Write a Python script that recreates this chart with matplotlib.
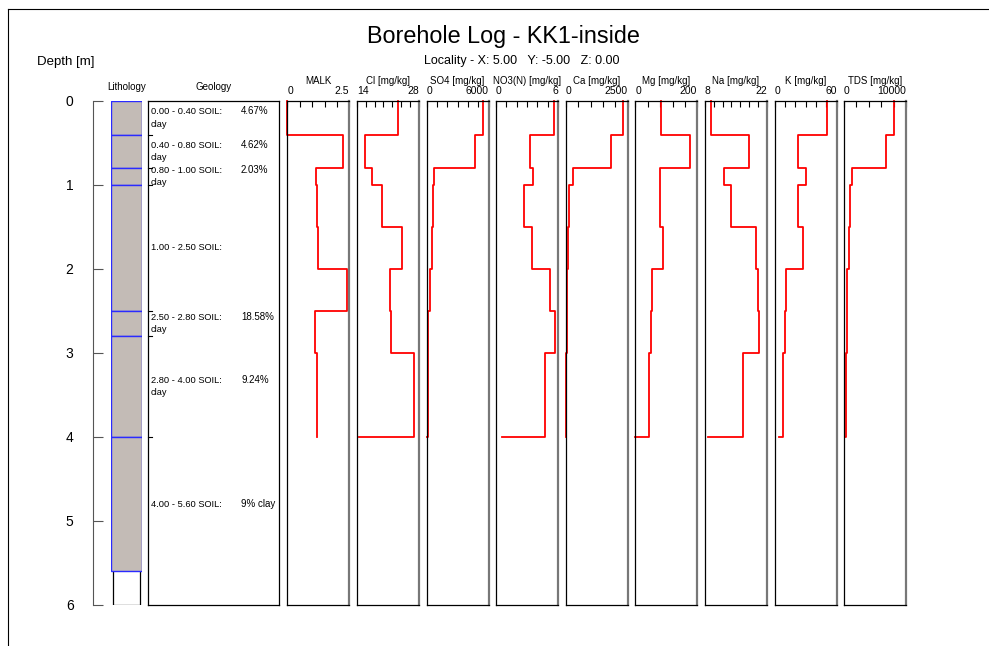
import numpy as np
import matplotlib.pyplot as plt
from matplotlib.patches import Rectangle
from matplotlib.lines import Line2D

plt.rcParams['font.family'] = ['Liberation Sans', 'DejaVu Sans']

W, H = 989, 646

# sample depths (top of each step, last one is the end point)
depths = [0.0, 0.4, 0.8, 1.0, 1.5, 2.0, 2.5, 3.0, 4.0]

malk = [0.0, 2.23, 1.17, 1.19, 1.22, 2.41, 1.10, 1.18, 1.18]
cl = [23.3, 15.8, 17.5, 19.7, 24.1, 21.5, 21.6, 26.9, 14.4]
so4 = [5480, 4675, 707, 640, 545, 320, 190, 170, 0]
no3 = [5.57, 3.24, 3.53, 2.69, 3.47, 5.25, 5.73, 4.76, 0.55]
ca = [2325, 1808, 286, 122, 94, 53, 40, 30, 25]
mg = [84, 176, 81, 81, 88, 55, 51, 43, 0]
na = [9.43, 18.07, 12.39, 13.9, 19.6, 19.9, 20.2, 16.64, 8.8]
k = [51.0, 22.9, 30.0, 22.3, 27.8, 11.6, 10.3, 8.7, 4.2]
tds = [8040, 6800, 1300, 930, 815, 490, 435, 330, 100]

col_names = ["MALK", "Cl [mg/kg]", "SO4 [mg/kg]", "NO3(N) [mg/kg]", "Ca [mg/kg]",
             "Mg [mg/kg]", "Na [mg/kg]", "K [mg/kg]", "TDS [mg/kg]"]
col_data = [malk, cl, so4, no3, ca, mg, na, k, tds]
col_min = [0, 14, 0, 0, 0, 0, 8, 0, 0]
col_max = [2.5, 28, 6000, 6, 2500, 200, 22, 60, 10000]
col_step = [0.5, 2, 1000, 1, 500, 40, 2, 10, 2000]
col_min_lbl = ["0", "14", "0", "0", "0", "0", "8", "0", "0"]
col_max_lbl = ["2.5", "28", "6000", "6", "2500", "200", "22", "60", "10000"]

# geology / lithology layers
geo_top = [0.0, 0.4, 0.8, 1.0, 2.5, 2.8, 4.0]
geo_bot = [0.4, 0.8, 1.0, 2.5, 2.8, 4.0, 5.6]
geo_desc = ["0.00 - 0.40 SOIL:", "0.40 - 0.80 SOIL:", "0.80 - 1.00 SOIL:",
            "1.00 - 2.50 SOIL:", "2.50 - 2.80 SOIL:", "2.80 - 4.00 SOIL:",
            "4.00 - 5.60 SOIL:"]
geo_pct = ["4.67%", "4.62%", "2.03%", "", "18.58%", "9.24%", "9% clay"]
geo_line2 = ["clay", "clay", "clay", "", "clay", "clay", ""]

Y0, Y1 = 101, 605  # pixel rows for depth 0 and 6


def rect(x0, x1):
    return [x0 / W, 1 - Y1 / H, (x1 - x0) / W, (Y1 - Y0) / H]


fig = plt.figure(figsize=(W / 100, H / 100), dpi=100)

# page frame (runs off the image on the right and bottom)
fig.add_artist(Line2D([8 / W, 8 / W], [0, 1 - 9 / H], color='black', lw=0.8))
fig.add_artist(Line2D([8 / W, 1], [1 - 9 / H, 1 - 9 / H], color='black', lw=0.8))

fig.text(503 / W, 1 - 37 / H, "Borehole Log - KK1-inside", ha='center', va='center', fontsize=16.8)
fig.text(522 / W, 1 - 61 / H, "Locality - X: 5.00   Y: -5.00   Z: 0.00", ha='center', va='center', fontsize=9)
fig.text(37 / W, 1 - 62 / H, "Depth [m]", ha='left', va='center', fontsize=9.5)

# depth axis
axd = fig.add_axes(rect(93, 103))
axd.set_ylim(6, 0)
axd.set_xlim(0, 1)
for s in ['top', 'right', 'bottom']:
    axd.spines[s].set_visible(False)
axd.spines['left'].set_color('#555555')
axd.set_xticks([])
axd.set_yticks(range(7))
axd.tick_params(axis='y', direction='in', length=7, color='#555555', pad=14, labelsize=10)
axd.patch.set_visible(False)

# lithology
axl = fig.add_axes(rect(111, 142))
axl.set_ylim(6, 0)
axl.set_xlim(0, 1)
axl.axis('off')
axl.add_patch(Rectangle((0.065, 0), 0.87, 6, fill=False, edgecolor='black', lw=0.9))
for t, b in zip(geo_top, geo_bot):
    axl.add_patch(Rectangle((0, t), 1, b - t, facecolor='#c3bbb6', edgecolor='#2a2aff', lw=1))
axl.text(0.5, -0.17, "Lithology", ha='center', va='center', fontsize=7)

# geology text column
axg = fig.add_axes(rect(148, 279))
axg.set_ylim(6, 0)
axg.set_xlim(148, 279)
axg.set_xticks([])
axg.set_yticks([])
for s in axg.spines.values():
    s.set_linewidth(0.9)
axg.text(214, -0.17, "Geology", ha='center', va='center', fontsize=7)
for t, b, d, p, l2 in zip(geo_top, geo_bot, geo_desc, geo_pct, geo_line2):
    mid = (t + b) / 2
    y1 = mid - 0.075 if l2 else mid
    axg.text(150.5, y1, d, ha='left', va='center', fontsize=6.7)
    if p:
        axg.text(241, y1, p, ha='left', va='center', fontsize=7)
    if l2:
        axg.text(150.5, mid + 0.075, l2, ha='left', va='center', fontsize=6.7)
for t in geo_top[1:]:
    axg.plot([148, 151.5], [t, t], color='black', lw=0.8, clip_on=False)

# chemistry columns
for i in range(len(col_names)):
    x0 = 287.3 + i * 69.6
    ax = fig.add_axes(rect(x0, x0 + 62))
    lo, hi = col_min[i], col_max[i]
    ax.set_xlim(lo, hi)
    ax.set_ylim(6, 0)
    ax.set_yticks([])
    ax.xaxis.tick_top()
    ax.set_xticks(np.arange(lo, hi + col_step[i] * 0.5, col_step[i]))
    ax.set_xticklabels([])
    ax.tick_params(axis='x', direction='in', length=4, width=0.8)
    for s in ['left', 'top', 'bottom']:
        ax.spines[s].set_linewidth(0.9)
    ax.spines['right'].set_color('#777777')
    ax.spines['right'].set_linewidth(1.6)
    ax.plot(col_data[i], depths, color='red', lw=1.3, drawstyle='steps-pre', clip_on=False)
    ax.text(0.0, 1.01, col_min_lbl[i], transform=ax.transAxes, ha='left', va='bottom', fontsize=7.5)
    ax.text(1.0, 1.01, col_max_lbl[i], transform=ax.transAxes, ha='right', va='bottom', fontsize=7.5)
    ax.text(0.5, 1.03, col_names[i], transform=ax.transAxes, ha='center', va='bottom', fontsize=7)

fig.savefig("out.png", dpi=100)
